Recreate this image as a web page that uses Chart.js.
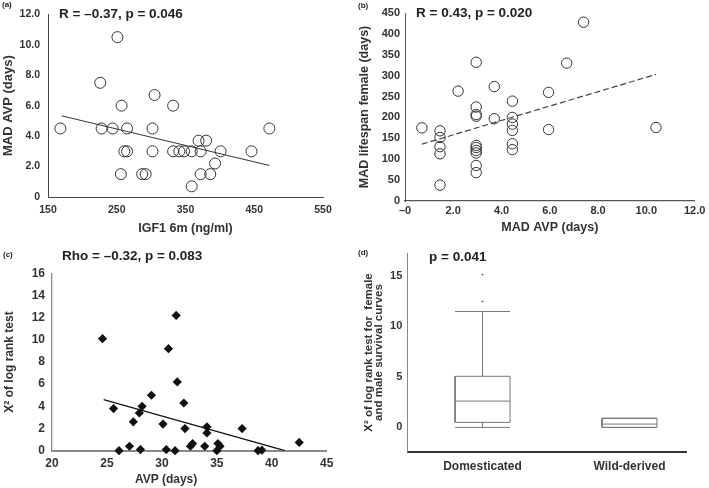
<!DOCTYPE html>
<html>
<head>
<meta charset="utf-8">
<script src="https://cdn.jsdelivr.net/npm/chart.js@4.4.1/dist/chart.umd.min.js"></script>
<style>
  body { margin: 0; background: #fff; }
  #fig { position: relative; width: 709px; height: 488px; overflow: hidden;
         font-family: 'Liberation Sans', Arial, sans-serif; font-weight: bold; color: #222; }
  canvas { position: absolute; }
  .lbl { position: absolute; font-size: 8px; line-height: 10px; white-space: nowrap; }
  .stat { position: absolute; font-size: 13.5px; line-height: 16px; white-space: nowrap; }
  .axt { position: absolute; font-size: 12px; line-height: 14px; white-space: nowrap; color: #333; }
</style>
</head>
<body>
<div id="fig">
  <canvas id="chartA" width="355" height="240" style="left:0;top:0"></canvas>
  <canvas id="chartB" width="354" height="240" style="left:355px;top:0"></canvas>
  <canvas id="chartC" width="355" height="248" style="left:0;top:240px"></canvas>
  <canvas id="chartD" width="354" height="248" style="left:355px;top:240px"></canvas>

  <div class="lbl" style="left:2px;top:0px">(a)</div>
  <div class="stat" style="left:59px;top:6px">R = –0.37, p = 0.046</div>
  <div class="lbl" style="left:358px;top:1px">(b)</div>
  <div class="stat" style="left:416px;top:5px">R = 0.43, p = 0.020</div>
  <div class="lbl" style="left:3px;top:250px">(c)</div>
  <div class="stat" style="left:62px;top:248px">Rho = –0.32, p = 0.083</div>
  <div class="axt" style="left:135px;top:472px">AVP (days)</div>
  <div class="lbl" style="left:358px;top:248px">(d)</div>
  <div class="stat" style="left:429px;top:249px">p = 0.041</div>
</div>

<script>
// (a) IGF1 vs MAD AVP
const igf1 = [168, 251, 226, 228, 244, 257, 265, 261, 265, 256, 287, 292, 305, 302, 302,
              332, 332, 341, 348, 359, 359, 369, 380, 372, 372, 386, 393, 401, 446, 472];
const madAvpA = [4.5, 10.5, 7.5, 4.5, 4.5, 6.0, 4.5, 3.0, 3.0, 1.5, 1.5, 1.5, 6.7, 4.5, 3.0,
                 6.0, 3.0, 3.0, 3.0, 3.0, 0.7, 3.7, 3.7, 3.0, 1.5, 1.5, 2.2, 3.0, 3.0, 4.5];
const trendA = [{x: 170, y: 5.33}, {x: 472, y: 2.07}];
const xTicksA = [150, 250, 350, 450, 550];
const yTicksA = [0, 2, 4, 6, 8, 10, 12];

// (b) MAD AVP vs MAD lifespan female
const madAvpB = [0.7, 1.45, 1.45, 1.45, 1.45, 1.45, 2.2, 2.95, 2.95, 2.95, 2.95, 2.95, 2.95, 2.95, 2.95,
                 2.95, 2.95, 3.7, 3.7, 4.45, 4.45, 4.45, 4.45, 4.45, 4.45, 5.95, 5.95, 6.7, 7.4, 10.4];
const madLifespan = [175, 168, 152, 130, 113, 38, 263, 332, 225, 207, 203, 133, 128, 121, 115,
                     85, 68, 274, 197, 239, 200, 184, 169, 137, 123, 260, 171, 330, 428, 176];
const trendB = [{x: 0.7, y: 136}, {x: 10.4, y: 303}];
const xTicksB = [0, 2, 4, 6, 8, 10, 12];
const yTicksB = [0, 50, 100, 150, 200, 250, 300, 350, 400, 450];

// (c) AVP vs chi-square of log rank test
const avp = [24.6, 25.6, 26.1, 27.05, 27.4, 27.95, 28.05, 28.2, 29.05, 30.1, 30.4, 30.6, 31.2, 31.3, 31.4,
             32.0, 32.1, 32.6, 32.8, 33.9, 34.1, 34.1, 35.0, 35.1, 35.3, 37.3, 38.75, 39.1, 42.5];
const chiSq = [10.1, 3.8, 0, 0.4, 2.6, 3.4, 0.1, 4.0, 5.0, 2.4, 0.1, 9.2, 0, 12.2, 6.2,
               4.3, 2.0, 0.4, 0.65, 0.4, 2.15, 1.6, 0, 0.65, 0.4, 2.0, 0, 0.05, 0.75];
const trendC = [{x: 24.7, y: 4.6}, {x: 41.2, y: 0}];
const xTicksC = [20, 25, 30, 35, 40, 45];
const yTicksC = [0, 2, 4, 6, 8, 10, 12, 14, 16];

// (d) box plot
const groups = ['Domesticated', 'Wild-derived'];
const whiskerLow = [0, 0];
const q1 = [0.5, 0];
const median = [2.6, 0.33];
const q3 = [5.05, 0.9];
const whiskerHigh = [11.45, 0.9];
const outliersDom = [12.45, 15.1];
const yTicksD = [0, 5, 10, 15];

Chart.defaults.font.family = "'Liberation Sans', Arial, sans-serif";
Chart.defaults.font.weight = 'bold';
Chart.defaults.color = '#333';

const fixW = w => s => { s.width = w; };
const fixH = h => s => { s.height = h; };
const setTicks = arr => s => { s.ticks = arr.map(v => ({value: v})); };
const pts = (xs, ys) => xs.map((x, i) => ({x: x, y: ys[i]}));
const bold = size => ({size: size, weight: 'bold'});
const noGrid = {display: false, drawTicks: false};
const base = {
  responsive: false,
  animation: false,
  plugins: {legend: {display: false}, tooltip: {enabled: false}}
};

// (a)
new Chart(document.getElementById('chartA'), {
  type: 'scatter',
  data: {datasets: [
    {data: pts(igf1, madAvpA), pointRadius: 5.5, pointBorderWidth: 1, pointBorderColor: '#333',
     pointBackgroundColor: 'rgba(0,0,0,0)', clip: false},
    {data: trendA, showLine: true, pointRadius: 0, borderColor: '#333', borderWidth: 1}
  ]},
  options: {...base,
    layout: {padding: {left: 0, top: 13, right: 32, bottom: 0}},
    scales: {
      x: {type: 'linear', min: 150, max: 550, afterBuildTicks: setTicks(xTicksA), afterFit: fixH(43),
          grid: noGrid, border: {color: '#444', width: 1},
          ticks: {padding: 7, font: bold(10.5)},
          title: {display: true, text: 'IGF1 6m (ng/ml)', font: bold(12.5), padding: {top: 0, bottom: 4}}},
      y: {min: 0, max: 12, afterBuildTicks: setTicks(yTicksA), afterFit: fixW(48),
          grid: noGrid, border: {color: '#444', width: 1},
          ticks: {padding: 8, font: bold(10.5), callback: v => v === 0 ? '0' : v.toFixed(1)},
          title: {display: true, text: 'MAD AVP (days)', font: bold(13), padding: {top: 0.5, bottom: 0}}}
    }
  }
});

// (b)
new Chart(document.getElementById('chartB'), {
  type: 'scatter',
  data: {datasets: [
    {data: pts(madAvpB, madLifespan), pointRadius: 5.2, pointBorderWidth: 1, pointBorderColor: '#333',
     pointBackgroundColor: 'rgba(0,0,0,0)', clip: false},
    {data: trendB, showLine: true, pointRadius: 0, borderColor: '#444', borderWidth: 1.2, borderDash: [6, 3]}
  ]},
  options: {...base,
    layout: {padding: {left: 0, top: 13, right: 12, bottom: 0}},
    scales: {
      x: {type: 'linear', min: 0, max: 12, afterBuildTicks: setTicks(xTicksB), afterFit: fixH(39),
          grid: noGrid, border: {color: '#555', width: 1.3},
          ticks: {padding: 3.7, font: bold(11), callback: v => v === 0 ? '–0' : v.toFixed(1)},
          title: {display: true, text: 'MAD AVP (days)', font: bold(12.5), padding: {top: 0, bottom: 4.5}}},
      y: {min: 0, max: 450, afterBuildTicks: setTicks(yTicksB), afterFit: fixW(50),
          grid: noGrid, border: {color: '#555', width: 1},
          ticks: {padding: 5, font: bold(11)},
          title: {display: true, text: 'MAD lifespan female (days)', font: bold(12.5), padding: {top: 2.5, bottom: 0}}}
    }
  }
});

// (c)
new Chart(document.getElementById('chartC'), {
  type: 'scatter',
  data: {datasets: [
    {data: pts(avp, chiSq), pointStyle: 'rectRot', pointRadius: 4.6, pointBorderWidth: 0,
     pointBackgroundColor: '#111', clip: false},
    {data: trendC, showLine: true, pointRadius: 0, borderColor: '#111', borderWidth: 1.2}
  ]},
  options: {...base,
    layout: {padding: {left: 0, top: 33.3, right: 28.3, bottom: 0}},
    scales: {
      x: {type: 'linear', min: 20, max: 45, afterBuildTicks: setTicks(xTicksC), afterFit: fixH(37.3),
          grid: noGrid, border: {color: '#8a8a8a', width: 2},
          ticks: {padding: 6, font: bold(12)}},
      y: {min: 0, max: 16, afterBuildTicks: setTicks(yTicksC), afterFit: fixW(52),
          grid: noGrid, border: {color: '#8a8a8a', width: 1.3},
          ticks: {padding: 7, font: bold(12)},
          title: {display: true, text: 'Χ² of log rank test', font: bold(12), padding: {top: 2.8, bottom: 0}}}
    }
  }
});

// (d)
const boxHalf = 0.187;
function boxPoints(i) {
  const c = i + 1, h = boxHalf, gap = {x: c, y: null};
  return [
    {x: c - h, y: q1[i]}, {x: c + h, y: q1[i]}, {x: c + h, y: q3[i]}, {x: c - h, y: q3[i]}, {x: c - h, y: q1[i]}, gap,
    {x: c - h, y: median[i]}, {x: c + h, y: median[i]}, gap,
    {x: c, y: q3[i]}, {x: c, y: whiskerHigh[i]}, gap,
    {x: c - h, y: whiskerHigh[i]}, {x: c + h, y: whiskerHigh[i]}, gap,
    {x: c, y: q1[i]}, {x: c, y: whiskerLow[i]}, gap,
    {x: c - h, y: whiskerLow[i]}, {x: c + h, y: whiskerLow[i]}
  ];
}
new Chart(document.getElementById('chartD'), {
  type: 'scatter',
  data: {datasets: [
    ...groups.map((g, i) => ({data: boxPoints(i), showLine: true, spanGaps: false, pointRadius: 0,
                              borderColor: '#777', borderWidth: 1, clip: false})),
    {data: outliersDom.map(v => ({x: 1, y: v})), pointRadius: 0.9, pointBorderWidth: 0,
     pointBackgroundColor: '#555'}
  ]},
  options: {...base,
    layout: {padding: {left: 0, top: 13.3, right: 22.3, bottom: 0}},
    scales: {
      x: {type: 'linear', min: 0.491, max: 2.389, afterBuildTicks: setTicks([1, 2]), afterFit: fixH(36.3),
          grid: noGrid, border: {color: '#333', width: 2},
          ticks: {padding: 7.8, font: bold(12), callback: v => groups[v - 1]}},
      y: {min: -2.4, max: 17.2, afterBuildTicks: setTicks(yTicksD), afterFit: fixW(52.7),
          grid: noGrid, border: {color: '#888', width: 1},
          ticks: {padding: 5.4, font: bold(11)},
          title: {display: true, text: ['Χ² of log rank test for  female', 'and male survival curves'],
                  font: {size: 11.5, weight: 'bold', lineHeight: 0.85}, padding: {top: 9.1, bottom: 0}}}
    }
  }
});
</script>
</body>
</html>
